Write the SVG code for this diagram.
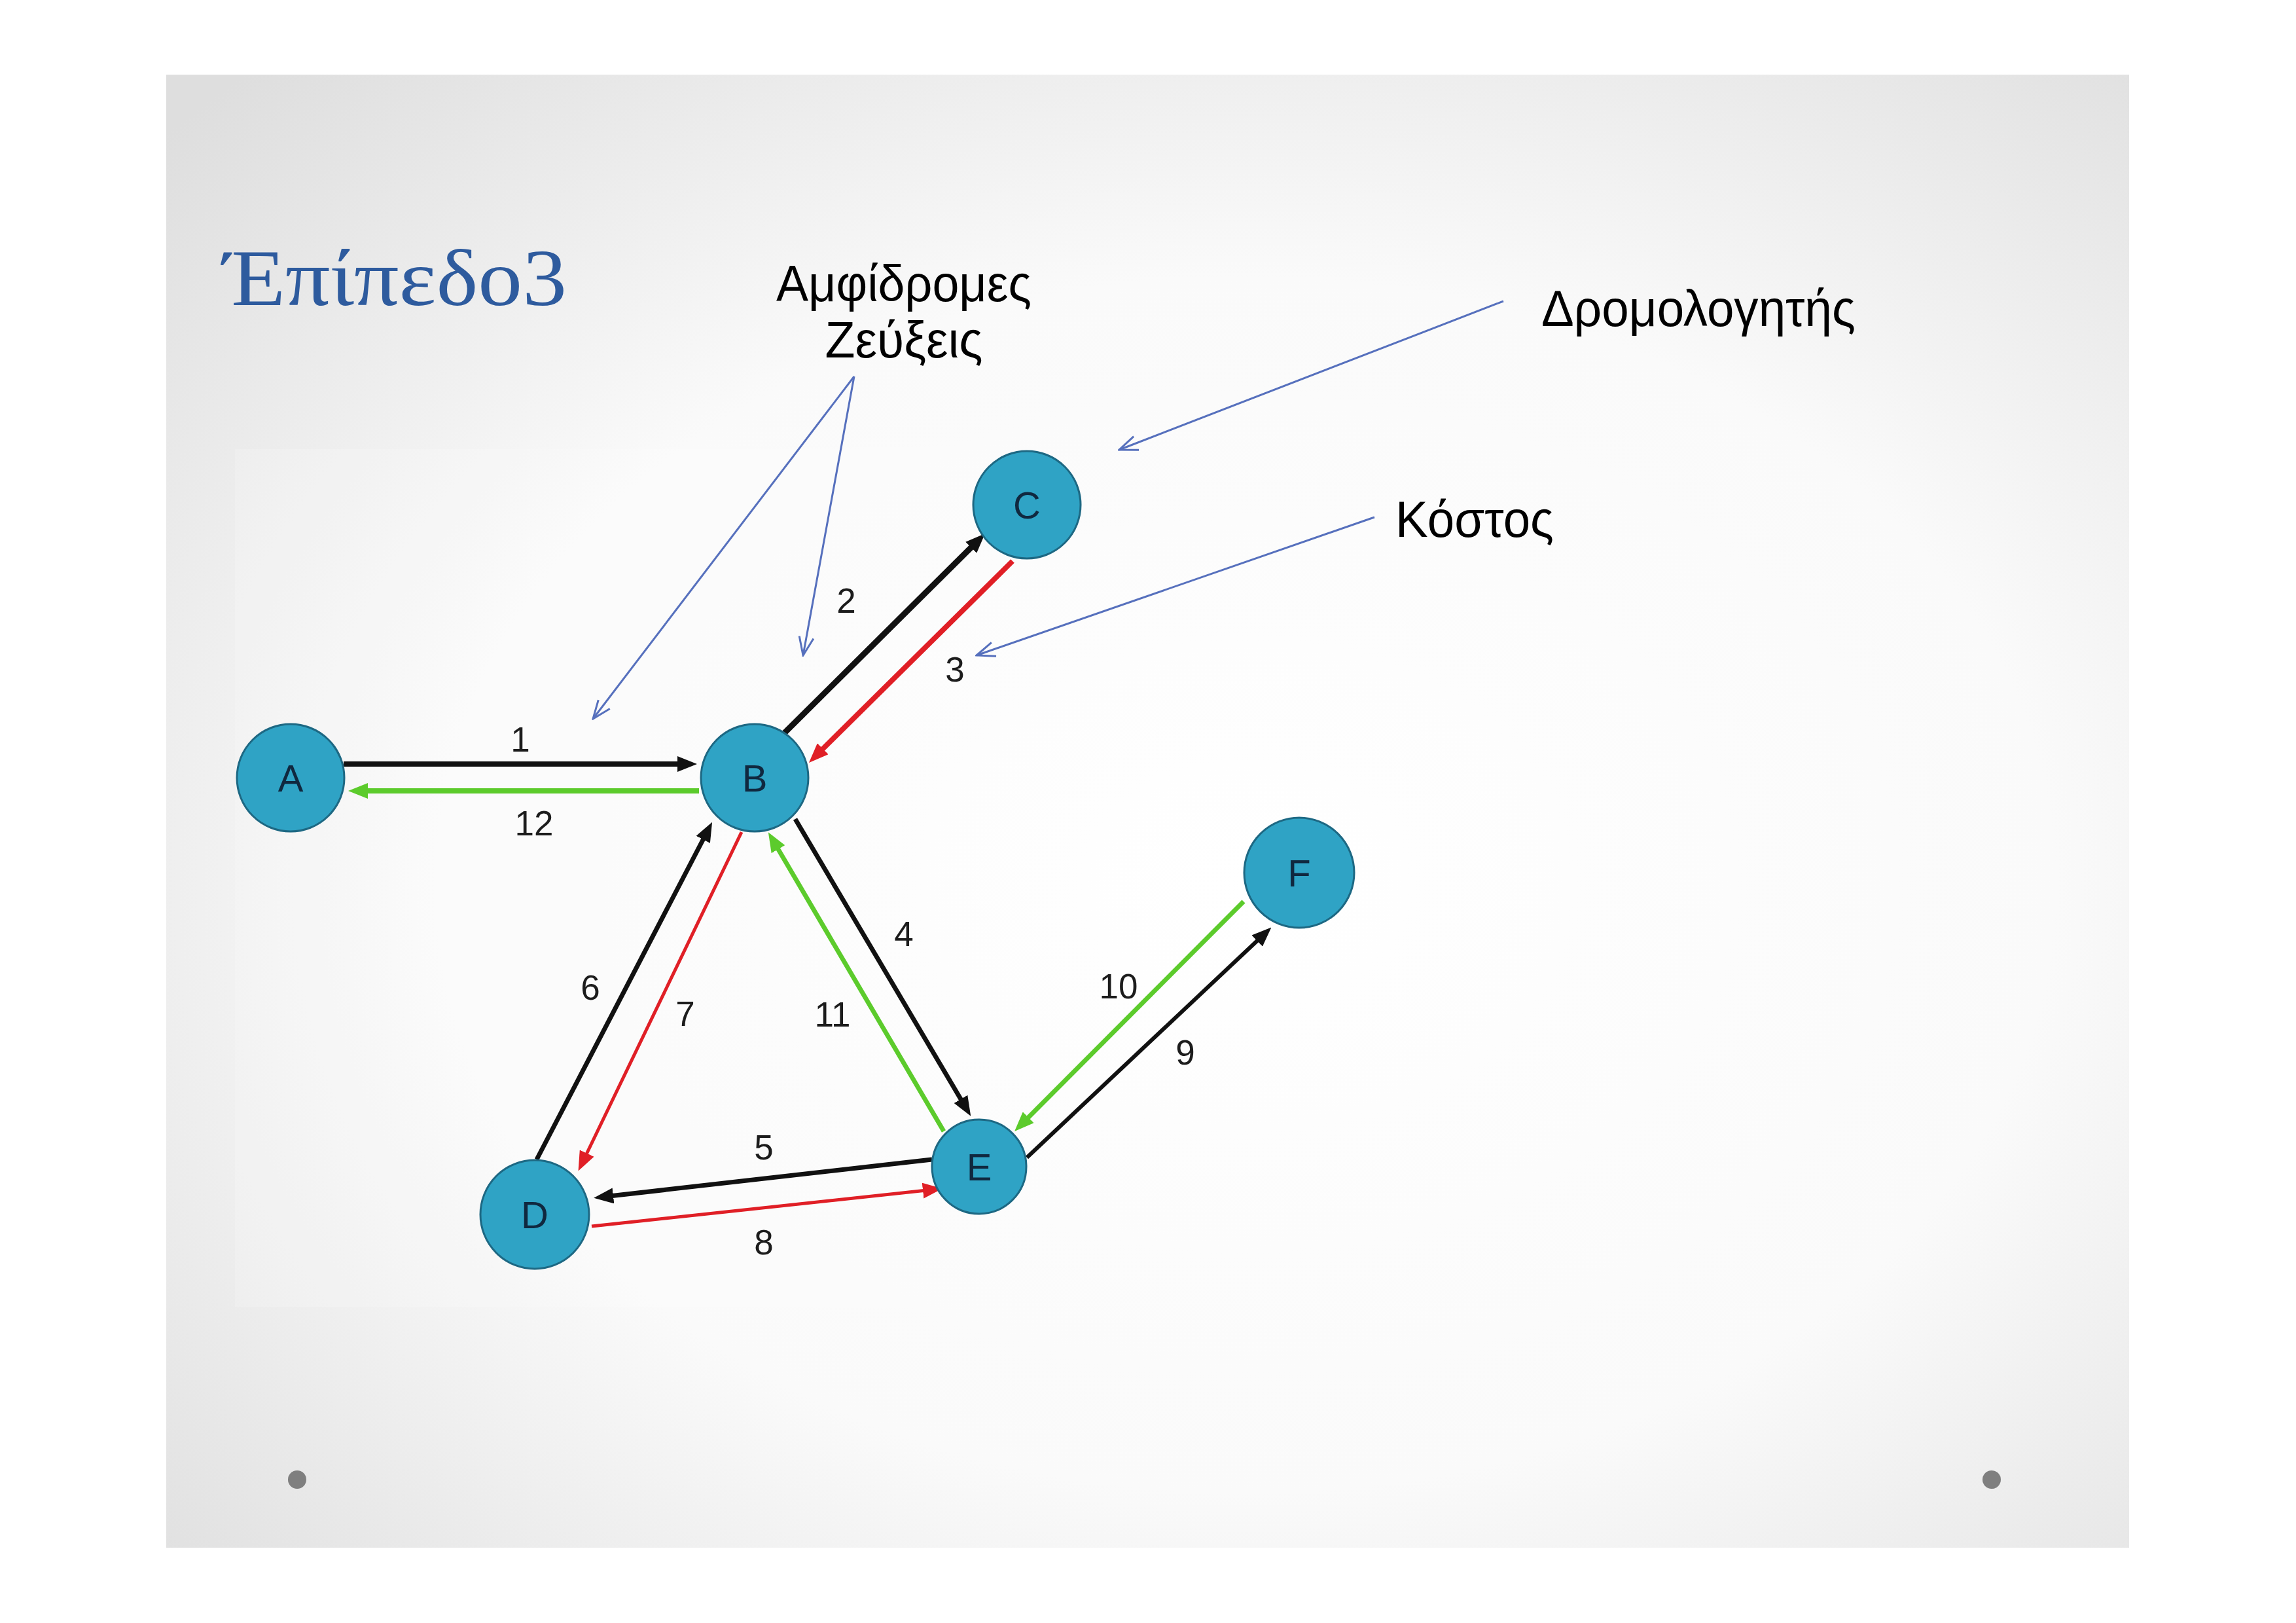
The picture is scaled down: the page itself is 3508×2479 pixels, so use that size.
<svg xmlns="http://www.w3.org/2000/svg" width="3508" height="2479" viewBox="0 0 3508 2479">
<defs>
<radialGradient id="bg" cx="0.55" cy="0.55" r="0.75">
<stop offset="0" stop-color="#ffffff"/>
<stop offset="0.55" stop-color="#fafafa"/>
<stop offset="1" stop-color="#dedede"/>
</radialGradient>
<marker id="mk" markerUnits="userSpaceOnUse" markerWidth="30" markerHeight="24" viewBox="0 0 30 24" refX="6" refY="12" orient="auto"><path d="M0,0 L30,12 L0,24 z" fill="#111111"/></marker>
<marker id="mr" markerUnits="userSpaceOnUse" markerWidth="30" markerHeight="24" viewBox="0 0 30 24" refX="6" refY="12" orient="auto"><path d="M0,0 L30,12 L0,24 z" fill="#e01f26"/></marker>
<marker id="mg" markerUnits="userSpaceOnUse" markerWidth="30" markerHeight="24" viewBox="0 0 30 24" refX="6" refY="12" orient="auto"><path d="M0,0 L30,12 L0,24 z" fill="#5ccb2c"/></marker>
<marker id="mb" markerUnits="userSpaceOnUse" markerWidth="32" markerHeight="26" viewBox="0 0 32 26" refX="30" refY="13" orient="auto"><path d="M2,2 L30,13 L2,24" fill="none" stroke="#5670bd" stroke-width="3"/></marker>
</defs>
<style>
.node circle{fill:#2fa3c5;stroke:#1d6883;stroke-width:3}
.node text{font-family:"Liberation Sans",Arial,sans-serif;font-size:58px;fill:#10283f;text-anchor:middle}
.lbl{font-family:"Liberation Sans",Arial,sans-serif;font-size:53px;fill:#1c1c1c;text-anchor:middle}
.note{font-family:"Liberation Sans",Arial,sans-serif;font-size:78px;fill:#000000}
.e{fill:none;stroke-linecap:butt}
.k{stroke:#111111;marker-end:url(#mk)}
.r{stroke:#e01f26;marker-end:url(#mr)}
.g{stroke:#5ccb2c;marker-end:url(#mg)}
.ann{fill:none;stroke:#5670bd;stroke-width:3;marker-end:url(#mb)}
</style>
<rect x="0" y="0" width="3508" height="2479" fill="#ffffff"/>
<rect x="254" y="114" width="2999" height="2250" fill="url(#bg)"/>
<rect x="359" y="686" width="1744" height="1310" fill="#ffffff" opacity="0.18"/>
<circle cx="454" cy="2260" r="14" fill="#7f7f7f"/>
<circle cx="3043" cy="2260" r="14" fill="#7f7f7f"/>
<text x="342" y="466" font-family="'Liberation Serif','DejaVu Serif',serif" font-size="122" fill="#2e5b9e" textLength="524" lengthAdjust="spacingAndGlyphs">Έπίπεδο3</text>
<g id="notes">
<text class="note" x="1381" y="460" text-anchor="middle" textLength="390" lengthAdjust="spacingAndGlyphs">Αμφίδρομες</text>
<text class="note" x="1381" y="546" text-anchor="middle" textLength="241" lengthAdjust="spacingAndGlyphs">Ζεύξεις</text>
<text class="note" x="2355" y="498" textLength="480" lengthAdjust="spacingAndGlyphs">Δρομολογητής</text>
<text class="note" x="2132" y="820" textLength="242" lengthAdjust="spacingAndGlyphs">Κόστος</text>
</g>
<g id="connectors">
<line class="e k" x1="525" y1="1167" x2="1041" y2="1167" stroke-width="8"/>
<line class="e g" x1="1068" y1="1208" x2="556" y2="1208" stroke-width="8"/>
<line class="e k" x1="1197" y1="1121" x2="1488" y2="832" stroke-width="9"/>
<line class="e r" x1="1547" y1="857" x2="1253" y2="1148" stroke-width="8"/>
<line class="e k" x1="1215" y1="1251" x2="1471" y2="1684" stroke-width="7"/>
<line class="e g" x1="1442" y1="1728" x2="1186" y2="1292" stroke-width="7"/>
<line class="e k" x1="820" y1="1771" x2="1077" y2="1277" stroke-width="7"/>
<line class="e r" x1="1133" y1="1271" x2="894" y2="1767" stroke-width="5"/>
<line class="e k" x1="1424" y1="1771" x2="931" y2="1827" stroke-width="7"/>
<line class="e r" x1="904" y1="1873" x2="1416" y2="1818" stroke-width="5"/>
<line class="e g" x1="1900" y1="1377" x2="1567" y2="1711" stroke-width="7"/>
<line class="e k" x1="1569" y1="1768" x2="1925" y2="1433" stroke-width="6"/>
<path class="ann" d="M1305,575 L906,1098"/>
<path class="ann" d="M1305,575 L1227,1001"/>
<path class="ann" d="M2297,460 L1710,687"/>
<path class="ann" d="M2100,790 L1492,1001"/>
</g>
<g id="edge-labels">
<text class="lbl" x="795" y="1148">1</text>
<text class="lbl" x="816" y="1276">12</text>
<text class="lbl" x="1293" y="936">2</text>
<text class="lbl" x="1459" y="1041">3</text>
<text class="lbl" x="1381" y="1445">4</text>
<text class="lbl" x="1272" y="1568">11</text>
<text class="lbl" x="902" y="1527">6</text>
<text class="lbl" x="1047" y="1567">7</text>
<text class="lbl" x="1167" y="1771">5</text>
<text class="lbl" x="1167" y="1916">8</text>
<text class="lbl" x="1709" y="1525">10</text>
<text class="lbl" x="1811" y="1626">9</text>
</g>
<g id="node-A" class="node"><circle cx="444" cy="1188" r="82"/><text x="444" y="1209">A</text></g>
<g id="node-B" class="node"><circle cx="1153" cy="1188" r="82"/><text x="1153" y="1209">B</text></g>
<g id="node-C" class="node"><circle cx="1569" cy="771" r="82"/><text x="1569" y="792">C</text></g>
<g id="node-D" class="node"><circle cx="817" cy="1855" r="83"/><text x="817" y="1876">D</text></g>
<g id="node-E" class="node"><circle cx="1496" cy="1782" r="72"/><text x="1496" y="1803">E</text></g>
<g id="node-F" class="node"><circle cx="1985" cy="1333" r="84"/><text x="1985" y="1354">F</text></g>
</svg>
